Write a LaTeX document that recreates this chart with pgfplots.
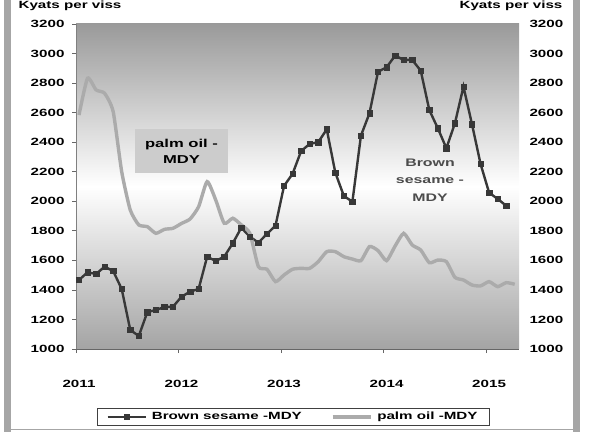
\documentclass[border=0pt]{standalone}
\usepackage{pgfplots}
\pgfplotsset{compat=1.18}
\usepackage{fontspec}
\setmainfont{Liberation Sans}[FakeStretch=1.45]
\definecolor{ses}{HTML}{383838}
\definecolor{palm}{HTML}{ABABAB}
\definecolor{bgtop}{HTML}{9A9A9A}
\definecolor{bgbot}{HTML}{A4A4A4}
\pgfplotstableread{
m v
0 1467
1 1519
2 1508
3 1557
4 1528
5 1406
6 1129
7 1088
8 1250
9 1264
10 1284
11 1286
12 1354
13 1388
14 1406
15 1625
16 1596
17 1625
18 1716
19 1821
20 1760
21 1720
22 1779
23 1835
24 2104
25 2186
26 2340
27 2388
28 2400
29 2487
30 2194
31 2036
32 1997
33 2444
34 2596
35 2877
36 2907
37 2986
38 2957
39 2957
40 2884
41 2618
42 2494
43 2359
44 2528
45 2776
46 2521
47 2253
48 2058
49 2016
50 1970
}\sesame
\pgfplotstableread{
m v
0 2584
1 2833
2 2754
3 2731
4 2607
5 2200
6 1941
7 1840
8 1828
9 1783
10 1810
11 1817
12 1850
13 1880
14 1963
15 2133
16 2009
17 1851
18 1885
19 1840
20 1783
21 1557
22 1540
23 1456
24 1501
25 1540
26 1546
27 1546
28 1591
29 1659
30 1659
31 1625
32 1609
33 1598
34 1693
35 1666
36 1598
37 1697
38 1783
39 1704
40 1670
41 1584
42 1602
43 1591
44 1485
45 1467
46 1433
47 1427
48 1456
49 1422
50 1449
51 1438
}\palmoil
\begin{document}
\begin{tikzpicture}[font=\bfseries\fontsize{10.5}{12}\selectfont]
\path[use as bounding box] (0,0) rectangle (590bp,432bp);
\fill[black!35] (4bp,0) rectangle (11bp,432bp);
\fill[black!35] (573bp,0) rectangle (580bp,432bp);
\draw[black!35, line width=1bp] (11bp,2bp) -- (573bp,2bp);
\begin{axis}[
  at={(76bp,83bp)}, anchor=south west, scale only axis,
  width=443bp, height=325bp,
  xmin=-0.35, xmax=51.5, ymin=1000, ymax=3200,
  axis x line*=bottom, axis y line*=left,
  axis line style={black!50, line width=0.8bp},
  x axis line style={black!60},
  tick align=outside, major tick length=4bp,
  tick style={black!60, line width=0.8bp},
  xtick={-0.35,11.65,23.65,35.65,47.65},
  xticklabels={2011,2012,2013,2014,2015},
  xticklabel style={yshift=-24bp, xshift=3bp},
  ytick={1000,1200,...,3200},
  yticklabel style={xshift=-4bp},
  /pgf/number format/assume math mode=true,
  /pgf/number format/1000 sep={},
  axis background/.style={top color=bgtop, bottom color=bgbot, middle color=white},
  legend columns=2,
  legend style={at={(0.491,-0.209)}, anchor=center, draw=black!75, line width=0.9bp,
    fill=white, inner xsep=9bp, inner ysep=2bp,
    /tikz/every odd column/.append style={column sep=2bp},
    /tikz/every even column/.append style={column sep=26bp},
    nodes={inner xsep=3bp}},
  legend image code/.code={\draw[mark repeat=2,mark phase=2,#1] plot coordinates {(0bp,0bp)(19bp,0bp)(38bp,0bp)};},
]
\addplot[ses, line width=2.4bp, mark=square*, mark size=2.7bp, mark options={fill=ses, draw=ses, line width=0.5bp}] table[x=m,y=v] {\sesame};
\addlegendentry{Brown sesame -MDY}
\addplot[palm, line width=3.4bp, smooth, tension=0.35, no marks] table[x=m,y=v] {\palmoil};
\addlegendentry{palm oil -MDY}
\end{axis}
\begin{axis}[
  at={(76bp,83bp)}, anchor=south west, scale only axis,
  width=443bp, height=325bp,
  xmin=-0.35, xmax=51.5, ymin=1000, ymax=3200,
  axis x line=none, axis y line*=right,
  axis line style={draw=none},
  major tick length=0pt,
  ytick={1000,1200,...,3200},
  yticklabel style={xshift=7bp},
  /pgf/number format/assume math mode=true,
  /pgf/number format/1000 sep={},
]
\end{axis}
\node at (70bp,426bp) {Kyats per viss};
\node at (511bp,426bp) {Kyats per viss};
\node[fill=black!20, minimum width=93bp, minimum height=44bp, align=center,
  font=\bfseries\fontsize{11.5}{16}\selectfont] at (181.5bp,281bp) {palm oil -\\MDY};
\node[align=center, font=\bfseries\fontsize{11}{17.5}\selectfont, text=black!70] at (430bp,252bp) {Brown\\sesame -\\MDY};
\end{tikzpicture}
\end{document}
